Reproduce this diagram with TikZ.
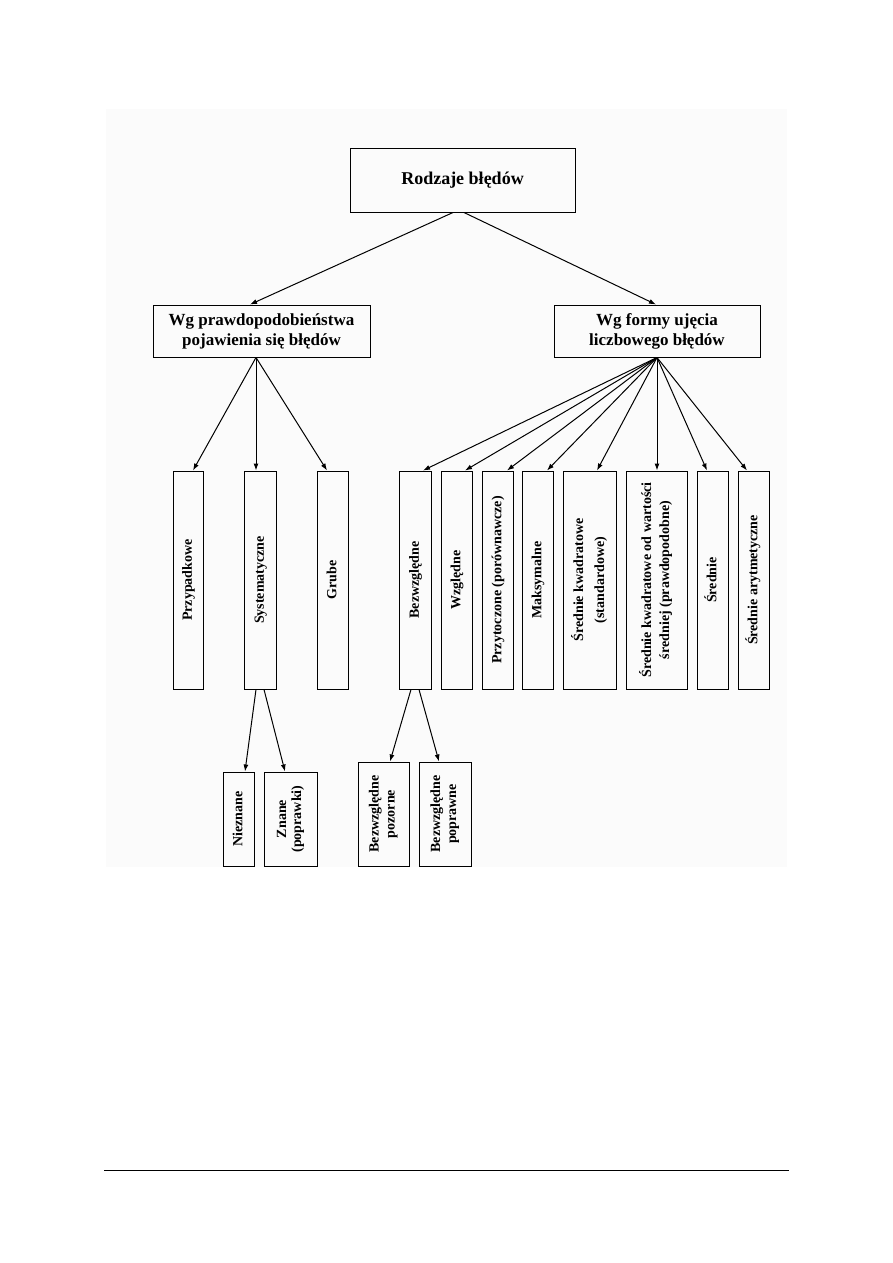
\documentclass[tikz,border=0pt]{standalone}
\usepackage{fontspec}
\usepackage{graphicx}
\setmainfont{Liberation Serif}
\usetikzlibrary{arrows.meta}
\definecolor{scanbg}{RGB}{251,251,251}
% rotated label, lines read bottom to top
\newcommand{\vlab}[2][19]{\rotatebox{90}{\fontsize{14}{#1}\selectfont\bfseries
  \begin{tabular}{@{}c@{}}#2\end{tabular}}}
\begin{document}
\begin{tikzpicture}[x=1pt,y=-1pt,>={Latex[length=7pt,width=5pt]},
  box/.style={draw,line width=1pt,inner sep=0pt,align=center},
  hbox/.style={box,font=\fontsize{17}{20}\selectfont\bfseries,minimum height=52pt},
  vbox/.style={box,minimum height=218pt},
  lbox/.style={box,minimum height=94pt},
  pbox/.style={box,minimum height=104pt},
  arr/.style={->,line width=1pt}]
  \useasboundingbox (0,0) rectangle (893,1263);
  \fill[scanbg] (106,109) rectangle (787,867);
  % top
  \node[box,minimum width=225pt,minimum height=64pt,font=\fontsize{18}{22}\selectfont\bfseries]
    (top) at (462.5,180) {Rodzaje błędów};
  % second level
  \node[hbox,minimum width=217pt] (wgp) at (261.5,331)
    {Wg prawdopodobieństwa\\pojawienia się błędów};
  \node[hbox,minimum width=206pt] (wgf) at (657,331)
    {Wg formy ujęcia\\liczbowego błędów};
  % left group
  \node[vbox,minimum width=30pt] (przyp) at (188,580) {\vlab{Przypadkowe}};
  \node[vbox,minimum width=32pt] (syst) at (260,580) {\vlab{Systematyczne}};
  \node[vbox,minimum width=31pt] (grube) at (332.5,580) {\vlab{Grube}};
  % right group
  \node[vbox,minimum width=32pt] (bezw) at (415,580) {\vlab{Bezwzględne}};
  \node[vbox,minimum width=31pt] (wzgl) at (456.5,580) {\vlab{Względne}};
  \node[vbox,minimum width=31pt] (przyt) at (497.5,580) {\vlab{Przytoczone (porównawcze)}};
  \node[vbox,minimum width=31pt] (maks) at (537.5,580) {\vlab{Maksymalne}};
  \node[vbox,minimum width=53pt] (srkw) at (589.5,580) {\vlab[21]{Średnie kwadratowe\\(standardowe)}};
  \node[vbox,minimum width=61pt] (srkwo) at (656.5,580)
    {\vlab[18]{Średnie kwadratowe od wartości\\średniej (prawdopodobne)}};
  \node[vbox,minimum width=31pt] (sred) at (712.5,580) {\vlab{Średnie}};
  \node[vbox,minimum width=31pt] (srar) at (753.5,580) {\vlab{Średnie arytmetyczne}};
  % third level
  \node[lbox,minimum width=31pt] (niez) at (238.5,819) {\vlab{Nieznane}};
  \node[lbox,minimum width=53pt] (znane) at (290.5,819) {\vlab[15]{Znane\\(poprawki)}};
  \node[pbox,minimum width=51pt] (bpoz) at (383.5,814) {\vlab[16]{Bezwzględne\\pozorne}};
  \node[pbox,minimum width=52pt] (bpop) at (445,814) {\vlab[16]{Bezwzględne\\poprawne}};
  % connectors
  \draw[arr] ([xshift=-9.5pt]top.south) -- ([xshift=-11.5pt]wgp.north);
  \draw[arr] ([xshift=1.5pt]top.south) -- ([xshift=-1pt]wgf.north);
  \draw[arr] ([xshift=-5.5pt]wgp.south) -- ([xshift=5pt]przyp.north);
  \draw[arr] ([xshift=-5.5pt]wgp.south) -- ([xshift=-4pt]syst.north);
  \draw[arr] ([xshift=-5.5pt]wgp.south) -- ([xshift=-5.5pt]grube.north);
  \draw[arr] (wgf.south) -- ([xshift=8pt]bezw.north);
  \draw[arr] (wgf.south) -- ([xshift=8.5pt]wzgl.north);
  \draw[arr] (wgf.south) -- ([xshift=9.5pt]przyt.north);
  \draw[arr] (wgf.south) -- ([xshift=9.5pt]maks.north);
  \draw[arr] (wgf.south) -- ([xshift=7.5pt]srkw.north);
  \draw[arr] (wgf.south) -- ([xshift=0.5pt]srkwo.north);
  \draw[arr] (wgf.south) -- ([xshift=-5.5pt]sred.north);
  \draw[arr] (wgf.south) -- ([xshift=-6.5pt]srar.north);
  \draw[arr] ([xshift=-4pt]syst.south) -- ([xshift=6.5pt]niez.north);
  \draw[arr] ([xshift=4pt]syst.south) -- ([xshift=-5.5pt]znane.north);
  \draw[arr] ([xshift=-4pt]bezw.south) -- ([xshift=6.5pt]bpoz.north);
  \draw[arr] ([xshift=4pt]bezw.south) -- ([xshift=-6pt]bpop.north);
  % page rule
  \draw[line width=0.9pt] (104,1170) -- (789,1170);
\end{tikzpicture}
\end{document}
